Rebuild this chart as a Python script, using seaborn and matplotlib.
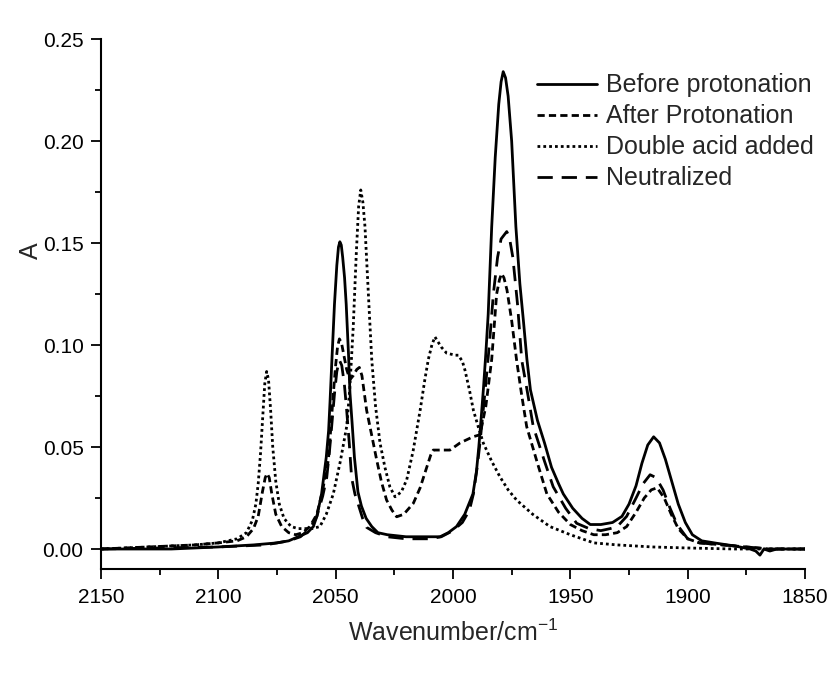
import matplotlib
matplotlib.use("Agg")
import matplotlib.pyplot as plt
import seaborn as sns
import pandas as pd

# ---------------- data ----------------
before_wn = [2150, 2120, 2100, 2085, 2075, 2070, 2066, 2062, 2059.5, 2058, 2056, 2054, 2053, 2052.4,
             2051.5, 2050.5, 2049.5, 2048.8, 2048.2, 2047.6, 2047, 2046.2, 2045.5, 2044.5, 2043.9, 2043,
             2042, 2040.5, 2039, 2037, 2034.6, 2032, 2028, 2020, 2010, 2005.5, 2002, 1998.5, 1995,
             1991.5, 1990, 1989, 1988, 1987, 1986, 1985, 1983.5, 1982, 1980.5, 1979.5, 1978.6, 1977.6,
             1976.5, 1975, 1973.2, 1971.5, 1970, 1968.5, 1967, 1964, 1961, 1958, 1955, 1953, 1949, 1945,
             1941.5, 1937, 1932, 1928, 1925, 1922, 1919.5, 1917, 1914.5, 1912, 1909.5, 1907, 1904,
             1901, 1898, 1894, 1887.6, 1880, 1873.4, 1871, 1869.2, 1867.5, 1865, 1862, 1850]
before_a = [0.000, 0.000, 0.001, 0.002, 0.003, 0.004, 0.006, 0.008, 0.011, 0.016, 0.027, 0.045, 0.058, 0.072,
            0.095, 0.120, 0.139, 0.148, 0.1506, 0.149, 0.143, 0.133, 0.120, 0.095, 0.0765, 0.062,
            0.045, 0.028, 0.021, 0.015, 0.011, 0.008, 0.007, 0.006, 0.006, 0.006, 0.008, 0.011, 0.017,
            0.027, 0.038, 0.050, 0.064, 0.079, 0.096, 0.115, 0.158, 0.192, 0.218, 0.229, 0.234, 0.231,
            0.222, 0.200, 0.158, 0.130, 0.112, 0.093, 0.078, 0.063, 0.052, 0.040, 0.032, 0.027, 0.020, 0.015,
            0.012, 0.012, 0.013, 0.016, 0.022, 0.031, 0.042, 0.051, 0.055, 0.052, 0.044, 0.034, 0.022,
            0.013, 0.007, 0.004, 0.0028, 0.0015, 0.000, -0.001, -0.003, 0.000, -0.001, 0.000, 0.000]

after_wn = [2150, 2130, 2110, 2100, 2092, 2088, 2085, 2083, 2081.2, 2080, 2079.2, 2078.3, 2077.2, 2075.5,
            2073, 2070, 2067, 2064, 2061, 2058, 2055.5, 2053.1, 2052, 2051, 2050, 2049.2, 2048.4, 2047.5,
            2046.5, 2045.3, 2043.9, 2042.5, 2041, 2039.9, 2038.8, 2036.8, 2034.5, 2032.5, 2030.5, 2028.3,
            2026, 2024, 2021, 2016.9, 2014, 2011.2, 2009.5, 2008.4, 2004, 2001.3, 1997, 1991.5, 1988.5,
            1986, 1983.5, 1981.4, 1980.2, 1979.3, 1978.3, 1977, 1975, 1972.9, 1970.8, 1968.6, 1964, 1960,
            1955, 1950, 1945, 1940, 1935, 1930, 1926, 1922, 1918.5, 1915.5, 1913, 1910, 1907, 1904, 1900,
            1895, 1885, 1875, 1865, 1850]
after_a = [0.000, 0.001, 0.002, 0.003, 0.004, 0.006, 0.010, 0.016, 0.028, 0.035, 0.037, 0.035, 0.027, 0.017,
           0.011, 0.008, 0.007, 0.008, 0.011, 0.017, 0.029, 0.0436, 0.060, 0.076, 0.090, 0.099, 0.103, 0.101,
           0.095, 0.088, 0.083, 0.085, 0.088, 0.089, 0.085, 0.068, 0.055, 0.0436, 0.033, 0.024,
           0.019, 0.0158, 0.017, 0.0224, 0.030, 0.040, 0.046, 0.0485, 0.0485, 0.0485, 0.052, 0.055, 0.056,
           0.070, 0.093, 0.125, 0.132, 0.135, 0.133, 0.127, 0.112, 0.0926, 0.076, 0.060, 0.042, 0.027,
           0.018, 0.012, 0.009, 0.007, 0.007, 0.008, 0.011, 0.018, 0.025, 0.029, 0.030, 0.025, 0.017, 0.010,
           0.005, 0.003, 0.002, 0.001, 0.000, 0.000]

double_wn = [2150, 2130, 2110, 2100, 2092, 2088, 2085.5, 2084, 2083, 2082, 2081, 2080.2, 2079.4, 2078.6,
             2077.7, 2076.8, 2075.5, 2074, 2072, 2069, 2066, 2063, 2060, 2056.7, 2054, 2051, 2048, 2045.3,
             2044, 2042.5, 2041.2, 2040.2, 2039.3, 2038.4, 2037.5, 2036.8, 2035.7, 2034.6, 2033, 2031.1,
             2029, 2026.9, 2024.7, 2022, 2019.7, 2017, 2014, 2012, 2010.5, 2009, 2007.7, 2005, 2002.7,
             1999, 1997.7, 1996, 1994.9, 1993, 1991.3, 1989, 1987.1, 1983.5, 1980, 1976.5, 1972.9, 1966,
             1958.7, 1950, 1940, 1930, 1915, 1900, 1880, 1850]
double_a = [0.000, 0.001, 0.002, 0.003, 0.005, 0.008, 0.014, 0.022, 0.032, 0.047, 0.066, 0.081, 0.087, 0.083,
            0.068, 0.050, 0.033, 0.022, 0.015, 0.011, 0.010, 0.010, 0.010, 0.011, 0.017, 0.027, 0.043, 0.060,
            0.078, 0.109, 0.145, 0.168, 0.176, 0.170, 0.158, 0.142, 0.117, 0.0926, 0.070, 0.052,
            0.040, 0.0305, 0.0256, 0.028, 0.034, 0.048, 0.068, 0.083, 0.093, 0.100, 0.104, 0.099, 0.096,
            0.095, 0.095, 0.092, 0.0877, 0.078, 0.068, 0.059, 0.052, 0.043, 0.0354, 0.029, 0.024, 0.017,
            0.011, 0.007, 0.003, 0.002, 0.001, 0.0005, 0.000, 0.000]

neutral_wn = [2150, 2100, 2080, 2070, 2065, 2061, 2058, 2055.5, 2053.8, 2052.7, 2051.7, 2050.5, 2049.5,
              2048.4, 2047.4, 2046.3, 2045.3, 2044.2, 2043.2, 2041.8, 2040.4, 2038.5, 2036.8, 2033, 2028,
              2020, 2010, 2005, 2000, 1996, 1993, 1991.3, 1989.7, 1988.5, 1986.4, 1984.5, 1982.8, 1981,
              1979.5, 1977.1, 1976, 1974.5, 1972.5, 1970.7, 1968, 1965.8, 1961, 1957.3, 1952, 1947.3, 1942,
              1937, 1933, 1930, 1926, 1922, 1919, 1916, 1913.5, 1910.5, 1907.5, 1904.5, 1900, 1895,
              1885, 1875, 1865, 1850]
neutral_a = [0.000, 0.001, 0.002, 0.004, 0.006, 0.010, 0.016, 0.026, 0.035, 0.047, 0.060, 0.076, 0.087,
             0.0926, 0.090, 0.081, 0.068, 0.052, 0.035, 0.027, 0.022, 0.015, 0.0106, 0.008, 0.006,
             0.005, 0.005, 0.006, 0.009, 0.013, 0.019, 0.027, 0.040, 0.052, 0.0765, 0.100, 0.125, 0.143,
             0.152, 0.1556, 0.153, 0.143, 0.120, 0.0926, 0.075, 0.060, 0.043, 0.0305, 0.020, 0.0126, 0.010,
             0.009, 0.010, 0.011, 0.016, 0.025, 0.032, 0.0364, 0.035, 0.029, 0.020, 0.012, 0.005, 0.003,
             0.002, 0.001, 0.000, 0.000]

series_labels = ["Before protonation", "After Protonation", "Double acid added", "Neutralized"]
x_ticks = [2150, 2100, 2050, 2000, 1950, 1900, 1850]
y_ticks = [0.00, 0.05, 0.10, 0.15, 0.20, 0.25]

# ---------------- plotting ----------------
sns.set_style("ticks")
plt.rcParams["font.family"] = ["Liberation Sans", "DejaVu Sans"]

fig = plt.figure(figsize=(8.33, 6.82), dpi=100)
ax = fig.add_axes([0.1212, 0.1651, 0.8452, 0.7777])

styles = ["-", (0, (2.6, 1.5)), (0, (1, 1.1)), (0, (5.5, 3.2))]
data = [(before_wn, before_a), (after_wn, after_a), (double_wn, double_a), (neutral_wn, neutral_a)]
for (wn, a), lab, ls in zip(data, series_labels, styles):
    df = pd.DataFrame({"wn": wn, "A": a})
    sns.lineplot(data=df, x="wn", y="A", ax=ax, color="black", linewidth=2.0,
                 linestyle=ls, label=lab, sort=False, estimator=None)

ax.set_xlim(2150, 1850)
ax.set_ylim(-0.01, 0.25)
ax.set_xticks(x_ticks)
ax.set_yticks(y_ticks)
ax.set_xticklabels([str(t) for t in x_ticks])
ax.set_yticklabels([f"{t:.2f}" for t in y_ticks])
ax.set_xticks([2125, 2075, 2025, 1975, 1925, 1875], minor=True)
ax.set_yticks([0.025, 0.075, 0.125, 0.175, 0.225], minor=True)
ax.tick_params(axis="both", which="major", direction="out", length=7.5, width=1.3,
               labelsize=15, color="black", labelcolor="black")
ax.tick_params(axis="both", which="minor", direction="out", length=4, width=1.3, color="black")
ax.tick_params(axis="x", which="major", pad=6)
ax.tick_params(axis="y", which="major", pad=5)

for side in ["top", "right"]:
    ax.spines[side].set_visible(False)
for side in ["left", "bottom"]:
    ax.spines[side].set_linewidth(1.5)
    ax.spines[side].set_color("black")

ax.set_xlabel("Wavenumber/cm$^{\\mathregular{-1}}$", fontsize=18, labelpad=9)
ax.set_ylabel("A", fontsize=18)
ax.yaxis.set_label_coords(-0.082, 0.60)

leg = ax.legend(loc="upper right", bbox_to_anchor=(1.012, 0.935), frameon=False, fontsize=18,
                handlelength=2.4, handletextpad=0.35, labelspacing=0.28, borderpad=0,
                borderaxespad=0)
for line in leg.get_lines():
    line.set_linewidth(2.0)

fig.savefig("out.png", dpi=100, facecolor="white")
